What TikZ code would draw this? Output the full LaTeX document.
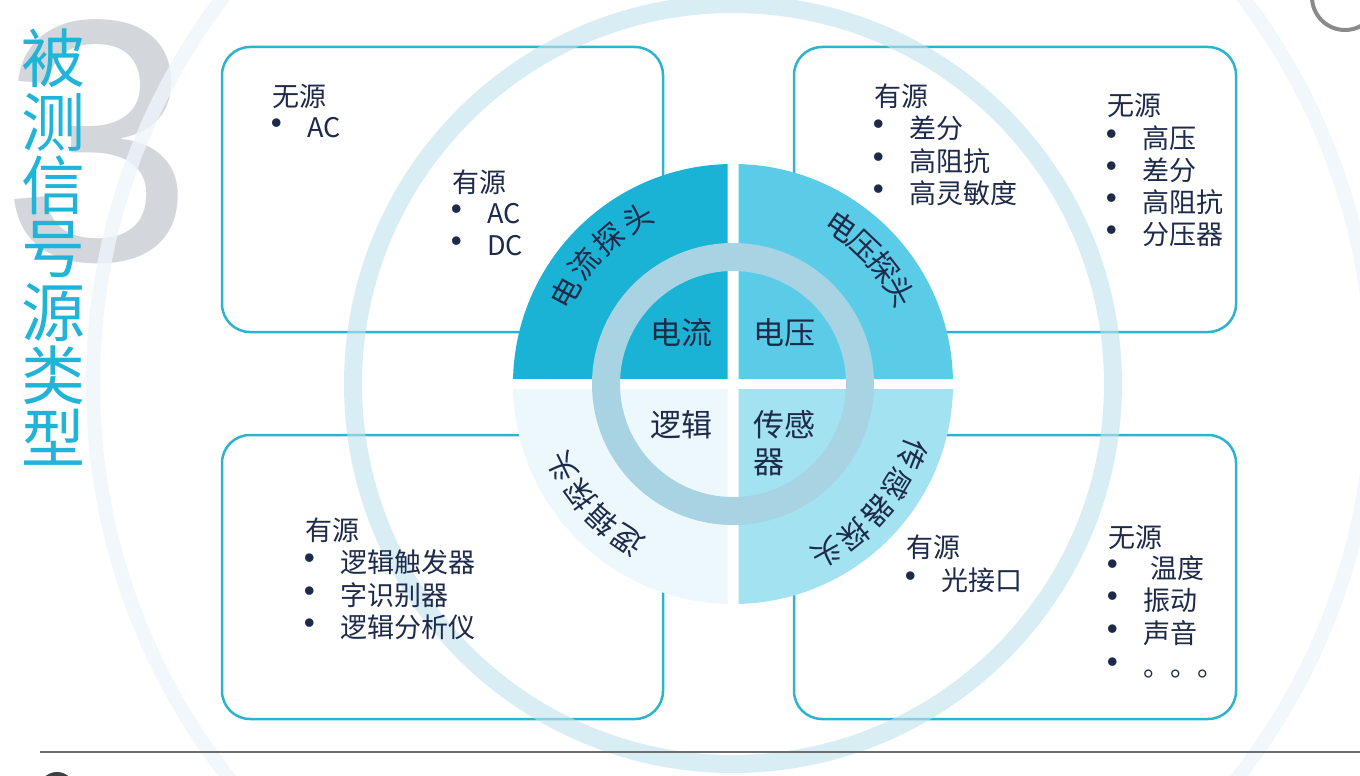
\documentclass[tikz,border=0pt]{standalone}
\usepackage{fontspec}
\setmainfont{Noto Sans CJK SC}
\newfontfamily\numfont{Liberation Sans}
\definecolor{cA}{HTML}{1AB3D5}
\definecolor{cB}{HTML}{5BCCE7}
\definecolor{cC}{HTML}{A3E2F1}
\definecolor{cD}{HTML}{EDF8FC}
\definecolor{ringc}{HTML}{A7D3E2}
\definecolor{bigring}{HTML}{C1E1ED}
\definecolor{farring}{HTML}{EEF5FA}
\definecolor{txtc}{HTML}{1E2A4A}
\definecolor{boxc}{HTML}{2EB3CF}
\definecolor{ttlc}{HTML}{1FB4D8}
\definecolor{threec}{HTML}{D3D6DB}
\definecolor{rulec}{HTML}{6E6E6E}
\definecolor{grayc}{HTML}{8A8A8A}
\definecolor{darkc}{HTML}{3B3F46}
\newcommand\bl[1]{\hspace{4.5pt}\makebox[0pt]{\raisebox{-1.5pt}{\scalebox{1.5}{•}}}\hspace{30.5pt}#1}
\begin{document}
\begin{tikzpicture}[x=1pt,y=-1pt,
  txt/.style={font=\fontsize{27}{32}\selectfont, text=txtc, inner sep=0pt, text height=23.8pt, text depth=3.2pt, anchor=west},
  midtxt/.style={font=\fontsize{31}{36}\selectfont, text=txtc, inner sep=0pt, text height=27.3pt, text depth=3.7pt, anchor=west},
  arctxt/.style={font=\fontsize{30}{34}\selectfont, text=txtc, inner sep=0pt, text height=26.4pt, text depth=3.6pt},
  ttl/.style={font=\fontsize{64}{64}\selectfont, text=ttlc, inner sep=0pt, text height=56.3pt, text depth=7.7pt},
  box/.style={draw=boxc, line width=2.5pt, rounded corners=28pt, inner sep=0pt, outer sep=0pt, minimum height=285pt}]
\useasboundingbox (0,0) rectangle (1360,776);
\clip (0,0) rectangle (1360,776);
\fill[white] (0,0) rectangle (1360,776);
% big 3
\node[font=\numfont\fontsize{345}{345}\selectfont, text=threec, inner sep=0pt] (three) at (97,142) {3};
% faint outer ring
\draw[farring, line width=14pt, opacity=0.8] (733,384) circle (640pt);
% title
\foreach \c [count=\i from 0] in {被,测,信,号,源,类,型}
  \node[ttl] (title\i) at (53,{58.6+63.3*\i}) {\c};
% boxes
\node[box, minimum width=441pt] (boxTL) at (442.5,189.5) {};
\node[box, minimum width=442pt] (boxTR) at (1015,189.5) {};
\node[box, minimum width=441pt, minimum height=284pt] (boxBL) at (442.5,577) {};
\node[box, minimum width=442pt, minimum height=284pt] (boxBR) at (1015,577) {};
% middle ring
\draw[bigring, line width=18pt, opacity=0.6] (733,384) circle (380pt);
% central circle
\begin{scope}[shift={(733,384)}, y=1pt]
  \begin{scope}\clip (-230,5.5) rectangle (-5.5,230); \fill[cA] (0,0) circle (220pt);\end{scope}
  \begin{scope}\clip (5.5,5.5) rectangle (230,230); \fill[cB] (0,0) circle (220pt);\end{scope}
  \begin{scope}\clip (5.5,-5.5) rectangle (230,-230); \fill[cC] (0,0) circle (220pt);\end{scope}
  \begin{scope}\clip (-230,-5.5) rectangle (-5.5,-230); \fill[cD] (0,0) circle (220pt);\end{scope}
  \draw[ringc, line width=28pt] (0,0) circle (127pt);
  \node[midtxt] (cur) at (-83,51) {电流};
  \node[midtxt] (vol) at (20,51) {电压};
  \node[midtxt] (log) at (-83,-41) {逻辑};
  \node[midtxt] (sen1) at (20,-41) {传感};
  \node[midtxt] (sen2) at (20,-78) {器};
  \foreach \a/\c [count=\i] in {151.5/电,141/流,130.5/探,120/头}
    \node[arctxt, rotate=\a-90] (arcA\i) at (\a:191pt) {\c};
  \foreach \a/\c [count=\i] in {55.5/电,46.6/压,37.8/探,29/头}
    \node[arctxt, rotate=\a-90] (arcB\i) at (\a:191pt) {\c};
  \foreach \a/\c [count=\i] in {236/逻,226/辑,216/探,206/头}
    \node[arctxt, rotate=\a-90] (arcC\i) at (\a:189pt) {\c};
  \foreach \a/\c [count=\i] in {-21.5/传,-31.4/感,-41.3/器,-51.2/探,-61/头}
    \node[arctxt, rotate=\a-90] (arcD\i) at (\a:193pt) {\c};
\end{scope}
% box texts
\node[txt] (tl1) at (272,96) {无源};
\node[txt] (tl2) at (272,127) {\bl{AC}};
\node[txt] (tl3) at (452,182) {有源};
\node[txt] (tl4) at (452,213) {\bl{AC}};
\node[txt] (tl5) at (452,245) {\bl{DC}};
\node[txt] (tr1) at (874,96) {有源};
\node[txt] (tr2) at (874,128) {\bl{差分}};
\node[txt] (tr3) at (874,161) {\bl{高阻抗}};
\node[txt] (tr4) at (874,193) {\bl{高灵敏度}};
\node[txt] (tr5) at (1107,105) {无源};
\node[txt] (tr6) at (1107,138) {\bl{高压}};
\node[txt] (tr7) at (1107,170) {\bl{差分}};
\node[txt] (tr8) at (1107,202) {\bl{高阻抗}};
\node[txt] (tr9) at (1107,234) {\bl{分压器}};
\node[txt] (bl1) at (305,530) {有源};
\node[txt] (bl2) at (305,562) {\bl{逻辑触发器}};
\node[txt] (bl3) at (305,595) {\bl{字识别器}};
\node[txt] (bl4) at (305,627) {\bl{逻辑分析仪}};
\node[txt] (br1) at (906,547) {有源};
\node[txt] (br2) at (906,580) {\bl{光接口}};
\node[txt] (br3) at (1108,537) {无源};
\node[txt] (br4) at (1108,568) {\bl{\hspace{7pt}温度}};
\node[txt] (br5) at (1108,600) {\bl{振动}};
\node[txt] (br6) at (1108,633) {\bl{声音}};
\node[txt] (br7) at (1108,666) {\bl{。。。}};
% footer
\coordinate (ruleL) at (40,752);
\coordinate (ruleR) at (1360,752);
\draw[rulec, line width=1.5pt] (ruleL) -- (ruleR);
\draw[grayc, line width=4pt] (1345,-3) circle (33pt);
\fill[darkc] (57,790) circle (18pt);
\end{tikzpicture}
\end{document}
